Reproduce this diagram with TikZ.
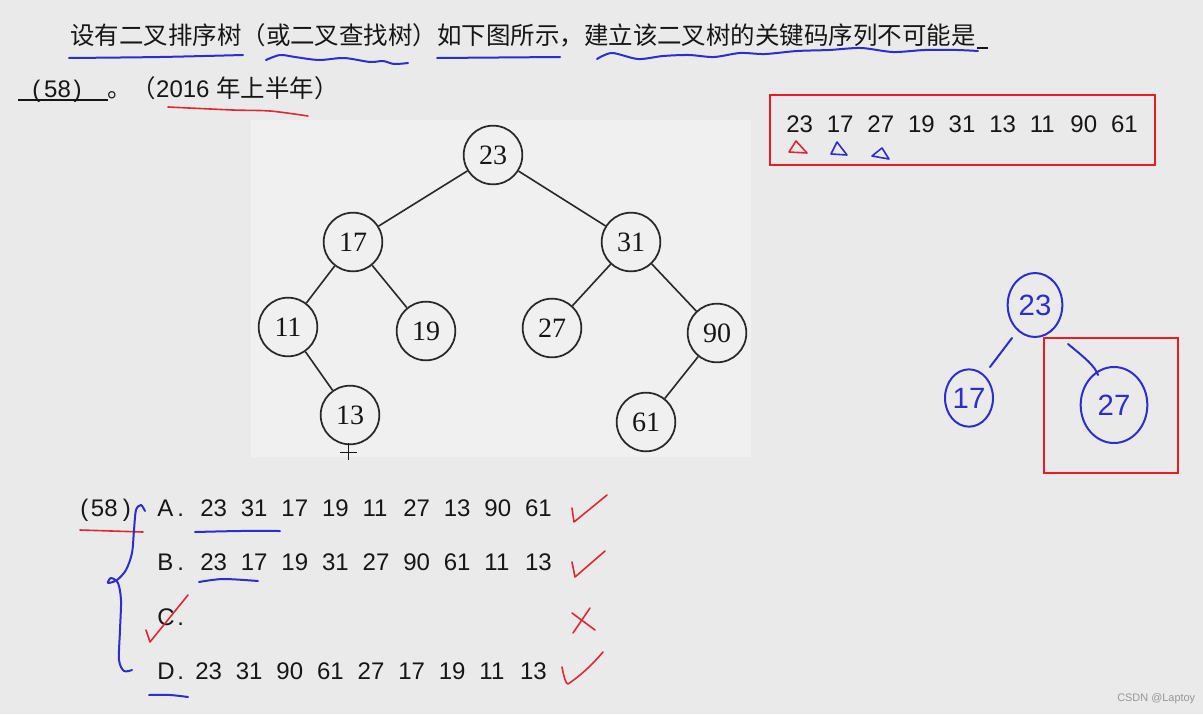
\documentclass[tikz,border=0pt]{standalone}
\usepackage{fontspec}
\setmainfont{Liberation Sans}
\newfontfamily\cjkfam{Noto Sans CJK SC}
\newfontfamily\treefam{Liberation Serif}
\usetikzlibrary{shapes.geometric}
\newcommand\zhfont{\cjkfam\fontsize{18.35pt}{22pt}\selectfont}
\definecolor{bg}{RGB}{234,234,234}
\definecolor{treebg}{RGB}{240,240,240}
\definecolor{ink}{RGB}{22,22,22}
\definecolor{edge}{RGB}{40,40,40}
\definecolor{pen}{RGB}{45,45,210}
\definecolor{redink}{RGB}{222,40,52}
\definecolor{boxred}{RGB}{236,28,36}
\definecolor{mark}{RGB}{150,150,150}
\begin{document}
\begin{tikzpicture}[x=0.75pt,y=-0.75pt,
  num/.style={font=\fontsize{18pt}{20pt}\selectfont, text=ink, inner sep=0pt, anchor=base west},
  zhtxt/.style={font=\zhfont, text=ink, inner sep=0pt, anchor=base west},
  tnode/.style={circle, draw=edge, line width=1.3pt, minimum size=44pt, inner sep=0pt, fill=treebg,
                font=\treefam\fontsize{21pt}{22pt}\selectfont, text=ink},
  tedge/.style={draw=edge, line width=1.2pt},
  bluepen/.style={draw=pen, line width=1.5pt, line cap=round, line join=round},
  redpen/.style={draw=redink, line width=1.2pt, line cap=round, line join=round},
  hnode/.style={ellipse, draw=pen, line width=1.5pt, inner sep=0pt, text=pen,
                font=\fontsize{22pt}{22pt}\selectfont},
  redframe/.style={draw=boxred, line width=1.6pt}
]
\fill[bg] (0,0) rectangle (1203,714);
\useasboundingbox (0,0) rectangle (1203,714);

% ---------- question text ----------
\node[zhtxt] (q1) at (70,44) {设有二叉排序树（或二叉查找树）如下图所示，建立该二叉树的关键码序列不可能是};
\draw[ink, line width=1.2pt] (977,48) -- (988,48);
\node[num] (q58) at (32,97) {(\hspace{3pt}58\hspace{2pt})};
\draw[ink, line width=1.2pt] (18,100) -- (108,100);
\node[num] (q2) at (107,97) {{\zhfont 。（}2016 {\zhfont 年上半年）}};

% blue underlines of the question
\draw[bluepen] plot[smooth] coordinates {(69,58) (160,57) (243,55)};
\draw[bluepen] plot[smooth] coordinates {(266,60) (280,55) (295,57) (319,60) (344,58) (370,62) (383,61) (394,64) (408,63)};
\draw[bluepen] (437,58) -- (560,57);
\draw[bluepen] plot[smooth] coordinates {(597,59) (612,53) (638,59) (663,56) (689,55) (714,57) (740,53) (765,54) (797,51) (829,50) (861,48) (893,52) (925,50) (957,50) (978,51)};
% red underline of the year
\draw[redpen] plot[smooth] coordinates {(168,107) (233,110) (270,111) (308,116)};

% ---------- red box with the key sequence ----------
\draw[redframe] (770,95) rectangle (1155,165);
\foreach \v [count=\i from 0] in {23,17,27,19,31,13,11,90,61}
  \node[num] (s\i) at ({786+\i*40.6},132) {\v};
\draw[redpen] (789,152) -- (807,153) -- (796,141) -- cycle;
\draw[bluepen, line width=1.2pt] (831,154) -- (847,155) -- (837,142) -- cycle;
\draw[bluepen, line width=1.2pt] (872,156) -- (889,159) -- (882,148) -- cycle;

% ---------- printed tree ----------
\fill[treebg] (251,120) rectangle (751,457);
\node[tnode] (t23) at (493,155) {23};
\node[tnode] (t17) at (353,242) {17};
\node[tnode] (t31) at (631,242) {31};
\node[tnode] (t11) at (288,327) {11};
\node[tnode] (t19) at (426,331) {19};
\node[tnode] (t27) at (552,328) {27};
\node[tnode] (t90) at (717,333) {90};
\node[tnode] (t13) at (350,415) {13};
\node[tnode] (t61) at (646,422) {61};
\draw[tedge] (t23) -- (t17);
\draw[tedge] (t23) -- (t31);
\draw[tedge] (t17) -- (t11);
\draw[tedge] (t17) -- (t19);
\draw[tedge] (t31) -- (t27);
\draw[tedge] (t31) -- (t90);
\draw[tedge] (t11) -- (t13);
\draw[tedge] (t90) -- (t61);
% mouse cursor
\draw[ink, line width=0.6pt] (348,443) -- (348,460) (340,452) -- (357,452);

% ---------- hand drawn tree ----------
\node[hnode, minimum width=41pt, minimum height=48pt] (h23) at (1035,305) {23};
\node[hnode, minimum width=36pt, minimum height=43pt] (h17) at (969,398) {17};
\node[hnode, minimum width=50pt, minimum height=57pt] (h27) at (1114,405) {27};
\coordinate (a1) at (1012,338);
\coordinate (a2) at (990,367);
\coordinate (b1) at (1068,344);
\coordinate (b2) at (1098,375);
\draw[bluepen] (a1) -- (a2);
\draw[bluepen] (b1) .. controls (1085,358) and (1095,366) .. (b2);
\draw[redframe] (1044,338) rectangle (1178,473);

% ---------- answer options ----------
\node[num] (o58) at (80,516) {(\hspace{2pt}58\hspace{4pt})};
\node[num] (oA) at (157,516) {A\hspace{3pt}.};
\node[num] (oB) at (157,570) {B\hspace{3pt}.};
\node[num] (oC) at (157,625) {C\hspace{2pt}.};
\node[num] (oD) at (157,679) {D\hspace{2pt}.};
\foreach \v [count=\i from 0] in {23,31,17,19,11,27,13,90,61}
  \node[num] (a\i) at ({200+\i*40.6},516) {\v};
\foreach \v [count=\i from 0] in {23,17,19,31,27,90,61,11,13}
  \node[num] (b\i) at ({200+\i*40.6},570) {\v};
\foreach \v [count=\i from 0] in {23,31,90,61,27,17,19,11,13}
  \node[num] (d\i) at ({195+\i*40.6},679) {\v};

% red marks on the options
\draw[redpen] (80,530) -- (143,532);
\draw[redpen] (572,508) -- (574,522) -- (607,495);
\draw[redpen] (572,562) -- (575,577) -- (605,551);
\draw[redpen] (572,613) -- (595,630) (590,608) -- (573,633);
\draw[redpen] (562,667) .. controls (564,678) and (566,684) .. (568,684) .. controls (580,676) and (592,665) .. (603,652);
\draw[redpen] (146,630) -- (150,642) -- (188,595);

% blue marks on the options
\draw[bluepen] plot[smooth] coordinates {(145,511) (141,505) (136,510) (134,530) (132,553) (126,570) (117,580) (108,583) (111,578) (118,583) (121,600) (120,630) (119,660) (124,671) (132,670)};
\draw[bluepen] plot[smooth] coordinates {(195,532) (240,531) (280,531)};
\draw[bluepen] plot[smooth] coordinates {(199,582) (223,579) (258,581)};
\draw[bluepen] plot[smooth] coordinates {(149,695) (170,695) (188,697)};

% watermark
\node[inner sep=0pt, anchor=base west, text=mark, font=\fontsize{8.2pt}{10pt}\selectfont] (wm) at (1117,701) {CSDN @Laptoy};
\end{tikzpicture}
\end{document}
